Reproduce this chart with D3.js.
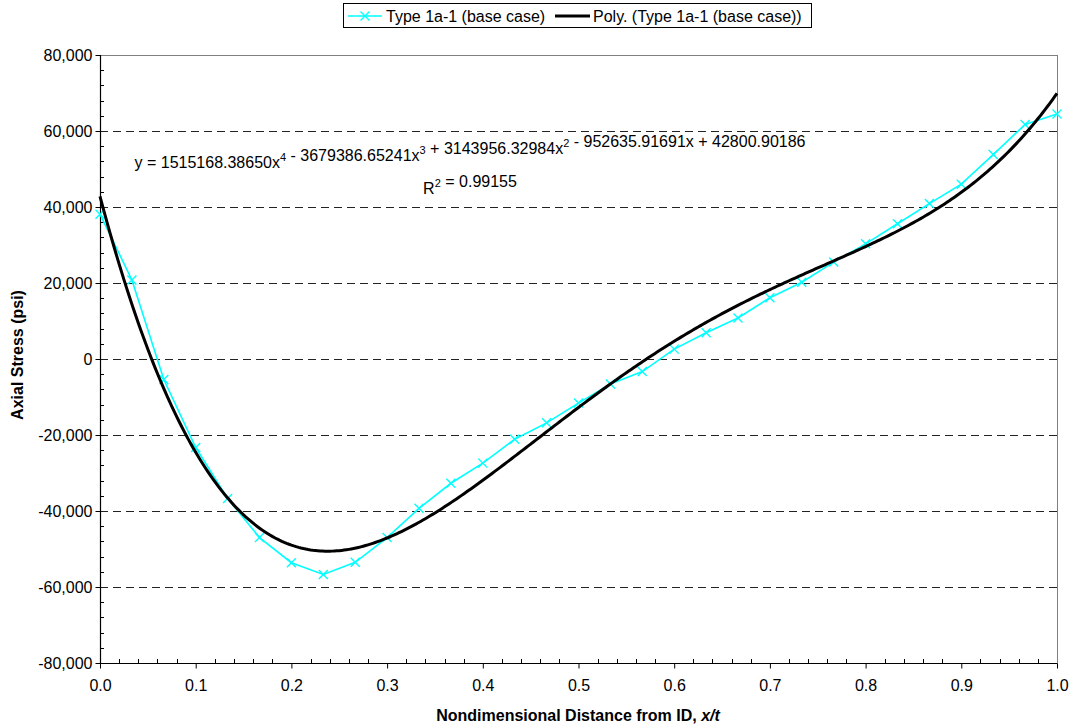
<!DOCTYPE html>
<html>
<head>
<meta charset="utf-8">
<script src="https://cdn.jsdelivr.net/npm/d3@7"></script>
<style>
  html, body { margin: 0; padding: 0; background: #fff; }
  svg { display: block; font-family: "Liberation Sans", Arial, sans-serif; }
</style>
</head>
<body>
<svg id="chart" width="1073" height="727"></svg>
<script>
// ---- data ----
const seriesName = "Type 1a-1 (base case)";
const trendName = "Poly. (Type 1a-1 (base case))";
const xValues = [0, 1/30, 2/30, 3/30, 4/30, 5/30, 6/30, 7/30, 8/30, 9/30, 10/30,
  11/30, 12/30, 13/30, 14/30, 15/30, 16/30, 17/30, 18/30, 19/30, 20/30,
  21/30, 22/30, 23/30, 24/30, 25/30, 26/30, 27/30, 28/30, 29/30, 1];
const stressValues = [38100, 20800, -5400, -23300, -36700, -47000, -53600, -56700, -53500, -47000, -39300,
  -32700, -27400, -21100, -16800, -11600, -6600, -3300, 2600, 6900, 10800,
  16100, 20200, 25500, 30300, 35600, 40900, 46000, 53800, 61700, 64500];
// trendline coefficients, constant term first (as printed on the chart)
const polyCoefs = [42800.90186, -952635.91691, 3143956.32984, -3679386.65241, 1515168.38650];
const xTicks = [0, 0.1, 0.2, 0.3, 0.4, 0.5, 0.6, 0.7, 0.8, 0.9, 1.0];
const yTicks = [-80000, -60000, -40000, -20000, 0, 20000, 40000, 60000, 80000];
const equationText = "y = 1515168.38650x<4> - 3679386.65241x<3> + 3143956.32984x<2> - 952635.91691x + 42800.90186";
const r2Value = "0.99155";

// ---- layout ----
const FS = 16;
const svg = d3.select("#chart");
const L = 100, R = 1057, T = 55, B = 663;
const x = d3.scaleLinear().domain([0, 1]).range([L, R]);
const y = d3.scaleLinear().domain([-80000, 80000]).range([B, T]);

// plot area border (top/right gray)
svg.append("rect").attr("x", L + 0.5).attr("y", T + 0.5).attr("width", R - L).attr("height", B - T)
  .attr("fill", "none").attr("stroke", "#808080").attr("stroke-width", 1);

// gridlines
svg.append("g").selectAll("line")
  .data(yTicks.filter(v => v > -80000 && v < 80000))
  .join("line")
  .attr("x1", L).attr("x2", R)
  .attr("y1", d => Math.round(y(d)) + 0.5).attr("y2", d => Math.round(y(d)) + 0.5)
  .attr("stroke", "#222").attr("stroke-width", 1).attr("stroke-dasharray", "8,5");

// minor ticks (inside)
const yMinor = d3.range(-80000, 80001, 4000).filter(v => v % 20000 !== 0);
svg.append("g").selectAll("line").data(yMinor).join("line")
  .attr("x1", L).attr("x2", L + 4)
  .attr("y1", d => Math.round(y(d)) + 0.5).attr("y2", d => Math.round(y(d)) + 0.5)
  .attr("stroke", "#000");
const xMinor = d3.range(0, 51).map(i => i / 50).filter((v, i) => i % 5 !== 0);
svg.append("g").selectAll("line").data(xMinor).join("line")
  .attr("x1", d => Math.round(x(d)) + 0.5).attr("x2", d => Math.round(x(d)) + 0.5)
  .attr("y1", B).attr("y2", B - 4)
  .attr("stroke", "#000");

// axes
const yAxis = d3.axisLeft(y).tickValues(yTicks).tickSize(5).tickPadding(3)
  .tickFormat(d => d3.format(",")(d).replace("−", "-"));
const gy = svg.append("g").attr("transform", `translate(${L + 0.5},0)`).call(yAxis);
const xAxis = d3.axisBottom(x).tickValues(xTicks).tickSize(5).tickPadding(11)
  .tickFormat(d3.format(".1f"));
const gx = svg.append("g").attr("transform", `translate(0,${B + 0.5})`).call(xAxis);
[gx, gy].forEach(g => {
  g.select(".domain").attr("stroke", "#000").attr("stroke-width", 1.2);
  g.selectAll(".tick line").attr("stroke", "#000");
  g.selectAll("text").attr("fill", "#000").attr("font-size", FS)
    .attr("font-family", "'Liberation Sans', Arial, sans-serif");
});
gy.select(".domain").attr("d", `M0,${T}V${B}`);
gx.select(".domain").attr("d", `M${L},0H${R}`);

// data series
const pts = xValues.map((xv, i) => [xv, stressValues[i]]);
svg.append("path").datum(pts)
  .attr("fill", "none").attr("stroke", "#00FFFF").attr("stroke-width", 1.6)
  .attr("d", d3.line().x(d => x(d[0])).y(d => y(d[1])));
const m = 4.5;
svg.append("g").selectAll("path").data(pts).join("path")
  .attr("d", d => {
    const px = x(d[0]), py = y(d[1]);
    return `M${px - m},${py - m}L${px + m},${py + m}M${px - m},${py + m}L${px + m},${py - m}`;
  })
  .attr("stroke", "#00FFFF").attr("stroke-width", 1.4).attr("fill", "none");

// trendline from the printed coefficients
const poly = t => polyCoefs.reduce((s, c, k) => s + c * Math.pow(t, k), 0);
const trendPts = d3.range(0, 1.0001, 0.0025).map(t => [t, poly(t)]);
svg.append("path").datum(trendPts)
  .attr("fill", "none").attr("stroke", "#000").attr("stroke-width", 3)
  .attr("d", d3.line().x(d => x(d[0])).y(d => y(d[1])));

// equation label
function addSup(textSel, str) {
  const parts = str.split(/<(\d)>/);
  parts.forEach((p, i) => {
    if (i % 2 === 0) { if (p) textSel.append("tspan").text(p); }
    else {
      textSel.append("tspan").attr("dy", -7).attr("font-size", 11).text(p);
      textSel.append("tspan").attr("dy", 7).text("");
    }
  });
}
const eq = svg.append("text").attr("x", 470).attr("y", 168).attr("text-anchor", "middle")
  .attr("font-size", FS).attr("fill", "#000");
addSup(eq, equationText);
const r2 = svg.append("text").attr("x", 470).attr("y", 194).attr("text-anchor", "middle")
  .attr("font-size", FS).attr("fill", "#000");
addSup(r2, "R<2> = " + r2Value);

// axis titles
svg.append("text").attr("x", 578).attr("y", 721).attr("text-anchor", "middle")
  .attr("font-size", FS).attr("font-weight", "bold").attr("fill", "#000")
  .call(t => {
    t.append("tspan").text("Nondimensional Distance from ID, ");
    t.append("tspan").attr("font-style", "italic").text("x/t");
  });
svg.append("text").attr("transform", "translate(23,355) rotate(-90)").attr("text-anchor", "middle")
  .attr("font-size", FS).attr("font-weight", "bold").attr("fill", "#000")
  .text("Axial Stress (psi)");

// legend
const lg = svg.append("g");
lg.append("rect").attr("x", 343.5).attr("y", 3.5).attr("width", 468).attr("height", 24)
  .attr("fill", "#fff").attr("stroke", "#000").attr("stroke-width", 1);
lg.append("line").attr("x1", 348).attr("x2", 382).attr("y1", 16).attr("y2", 16)
  .attr("stroke", "#00FFFF").attr("stroke-width", 1.6);
lg.append("path").attr("d", `M${365 - m},${16 - m}L${365 + m},${16 + m}M${365 - m},${16 + m}L${365 + m},${16 - m}`)
  .attr("stroke", "#00FFFF").attr("stroke-width", 1.4);
lg.append("text").attr("x", 386).attr("y", 21.5).attr("font-size", FS).attr("fill", "#000").text(seriesName);
lg.append("line").attr("x1", 555).attr("x2", 590).attr("y1", 16).attr("y2", 16)
  .attr("stroke", "#000").attr("stroke-width", 3);
lg.append("text").attr("x", 593).attr("y", 21.5).attr("font-size", FS).attr("fill", "#000").text(trendName);
</script>
</body>
</html>
